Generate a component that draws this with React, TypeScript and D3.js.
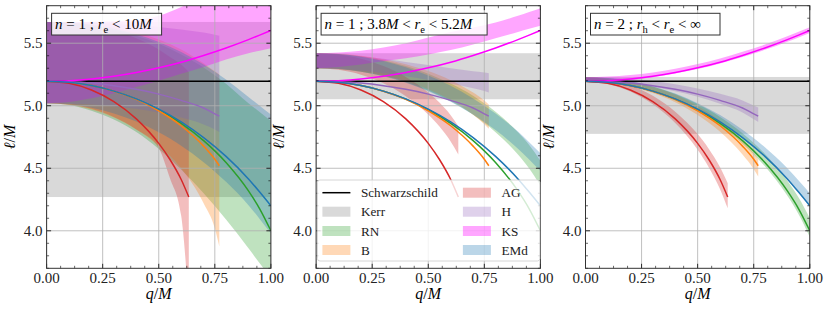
import React from 'react';
import * as d3 from 'd3';

// ---------- data ----------
const Q_FULL = [0, 0.1, 0.2, 0.3, 0.4, 0.5, 0.6, 0.7, 0.8, 0.9, 0.95, 1.0];
const Q_REG = [0, 0.1, 0.2, 0.3, 0.4, 0.5, 0.6, 0.7, 0.75, 0.77];
const Q_AG = [0, 0.1, 0.2, 0.3, 0.4, 0.5, 0.55, 0.6, 0.634];

const SCHW = 5.196;
const KERR_LO = [4.27, 5.052, 4.775];
const KERR_HI = [5.67, 5.42, 5.23];

const RN_LINE = [5.196, 5.187, 5.161, 5.117, 5.053, 4.968, 4.859, 4.721, 4.546, 4.319, 4.176, 4.0];
const EMD_LINE = [5.196, 5.188, 5.161, 5.117, 5.055, 4.973, 4.871, 4.745, 4.595, 4.415, 4.31, 4.2];
const KS_LINE = [5.196, 5.2005, 5.213, 5.235, 5.265, 5.303, 5.348, 5.402, 5.462, 5.529, 5.565, 5.602];
const B_LINE = [5.196, 5.187, 5.161, 5.116, 5.051, 4.96, 4.84, 4.677, 4.572, 4.52];
const H_LINE = [5.196, 5.192, 5.181, 5.16, 5.131, 5.093, 5.043, 4.982, 4.935, 4.917];
const AG_LINE = [5.196, 5.179, 5.126, 5.033, 4.895, 4.699, 4.57, 4.41, 4.27];

// panel 1: n=1, r_e < 10M
const RN_P1_LO = [5.02, 5.005, 4.96, 4.89, 4.79, 4.655, 4.49, 4.3, 4.09, 3.86, 3.74, 3.62];
const RN_P1_HI = [5.67, 5.665, 5.645, 5.612, 5.56, 5.495, 5.41, 5.305, 5.175, 5.02, 4.95, 4.88];
const B_P1_LO = [5.02, 5.008, 4.97, 4.905, 4.81, 4.68, 4.5, 4.22, 4.02, 3.875];
const B_P1_HI = [5.67, 5.665, 5.65, 5.625, 5.585, 5.53, 5.45, 5.34, 5.275, 5.25];
const AG_P1_LO = [5.02, 5.01, 4.975, 4.91, 4.81, 4.66, 4.42, 4.12, 3.4];
const AG_P1_HI = [5.67, 5.66, 5.64, 5.6, 5.54, 5.45, 5.39, 5.33, 5.27];
const H_P1_LO = [5.02, 5.018, 5.01, 4.995, 4.975, 4.945, 4.905, 4.85, 4.81, 4.79];
const H_P1_HI = [5.67, 5.668, 5.664, 5.656, 5.645, 5.63, 5.61, 5.585, 5.567, 5.56];
const KS_P1_LO = [5.02, 5.03, 5.06, 5.1, 5.15, 5.2, 5.255, 5.31, 5.37, 5.42, 5.44, 5.46];
const KS_P1_HI = [5.67, 5.67, 5.672, 5.676, 5.685, 5.72, 5.79, 5.87, 5.95, 6.03, 6.08, 6.13];
const EMD_P1_LO = [5.02, 5.012, 4.984, 4.938, 4.873, 4.787, 4.681, 4.549, 4.392, 4.205, 4.095, 3.98];
const EMD_P1_HI = [5.67, 5.665, 5.648, 5.618, 5.572, 5.51, 5.43, 5.33, 5.21, 5.07, 5.0, 4.93];

// panel 2: n=1, 3.8M < r_e < 5.2M
const RN_P2_LO = [5.3, 5.293, 5.272, 5.238, 5.188, 5.121, 5.035, 4.927, 4.788, 4.61, 4.498, 4.36];
const RN_P2_HI = [5.42, 5.414, 5.395, 5.363, 5.317, 5.256, 5.177, 5.079, 4.951, 4.788, 4.686, 4.56];
const B_P2_LO = [5.3, 5.294, 5.275, 5.243, 5.196, 5.131, 5.045, 4.928, 4.852, 4.815];
const B_P2_HI = [5.42, 5.415, 5.399, 5.371, 5.332, 5.277, 5.204, 5.105, 5.042, 5.01];
const AG_P2_LO = [5.3, 5.287, 5.248, 5.179, 5.076, 4.93, 4.834, 4.714, 4.61];
const AG_P2_HI = [5.42, 5.409, 5.376, 5.317, 5.23, 5.106, 5.025, 4.924, 4.835];
const H_P2_LO = [5.3, 5.295, 5.28, 5.26, 5.235, 5.205, 5.175, 5.14, 5.118, 5.105];
const H_P2_HI = [5.42, 5.41, 5.395, 5.375, 5.35, 5.325, 5.3, 5.275, 5.265, 5.26];
const KS_P2_LO = [5.3, 5.31, 5.33, 5.355, 5.38, 5.41, 5.445, 5.49, 5.54, 5.59, 5.615, 5.64];
const KS_P2_HI = [5.42, 5.425, 5.44, 5.465, 5.5, 5.545, 5.59, 5.625, 5.665, 5.72, 5.75, 5.78];
const EMD_P2_LO = [5.3, 5.293, 5.271, 5.235, 5.184, 5.116, 5.032, 4.929, 4.805, 4.657, 4.571, 4.48];
const EMD_P2_HI = [5.42, 5.414, 5.392, 5.357, 5.307, 5.241, 5.159, 5.058, 4.937, 4.793, 4.708, 4.62];

// panel 3: n=2, r_h < r_e < inf
const RN_P3_LO = [5.19, 5.181, 5.154, 5.108, 5.042, 4.954, 4.841, 4.697, 4.516, 4.281, 4.133, 3.95];
const RN_P3_HI = [5.228, 5.22, 5.195, 5.154, 5.093, 5.013, 4.91, 4.78, 4.615, 4.401, 4.266, 4.1];
const B_P3_LO = [5.19, 5.18, 5.151, 5.101, 5.028, 4.926, 4.792, 4.61, 4.493, 4.435];
const B_P3_HI = [5.228, 5.219, 5.194, 5.15, 5.087, 4.998, 4.882, 4.723, 4.621, 4.57];
const AG_P3_LO = [5.19, 5.172, 5.114, 5.012, 4.862, 4.648, 4.507, 4.333, 4.18];
const AG_P3_HI = [5.228, 5.212, 5.164, 5.079, 4.952, 4.773, 4.655, 4.508, 4.38];
const H_P3_LO = [5.19, 5.185, 5.173, 5.149, 5.115, 5.072, 5.015, 4.945, 4.891, 4.87];
const H_P3_HI = [5.228, 5.225, 5.215, 5.197, 5.171, 5.138, 5.095, 5.042, 5.001, 4.985];
const KS_P3_LO = [5.19, 5.194, 5.207, 5.228, 5.257, 5.293, 5.337, 5.389, 5.447, 5.512, 5.546, 5.582];
const KS_P3_HI = [5.228, 5.233, 5.245, 5.266, 5.296, 5.333, 5.377, 5.431, 5.489, 5.555, 5.591, 5.627];
const EMD_P3_LO = [5.19, 5.182, 5.155, 5.111, 5.049, 4.967, 4.865, 4.739, 4.589, 4.409, 4.304, 4.194];
const EMD_P3_HI = [5.228, 5.221, 5.195, 5.154, 5.097, 5.02, 4.925, 4.808, 4.668, 4.5, 4.403, 4.3];

const X_TICKS = [0, 0.25, 0.5, 0.75, 1.0];
const X_TICK_LABELS = ['0.00', '0.25', '0.50', '0.75', '1.00'];
const Y_TICKS = [4.0, 4.5, 5.0, 5.5];
const Y_TICK_LABELS = ['4.0', '4.5', '5.0', '5.5'];

const MODEL_NAMES = ['RN', 'B', 'AG', 'H', 'KS', 'EMd'];
const MODEL_COLORS = ['#2ca02c', '#ff7f0e', '#d62728', '#9467bd', '#ff00ff', '#1f77b4'];
const MODEL_Q = [Q_FULL, Q_REG, Q_AG, Q_REG, Q_FULL, Q_FULL];
const MODEL_LINES = [RN_LINE, B_LINE, AG_LINE, H_LINE, KS_LINE, EMD_LINE];
const MODEL_BANDS = [
  [[RN_P1_LO, RN_P1_HI], [RN_P2_LO, RN_P2_HI], [RN_P3_LO, RN_P3_HI]],
  [[B_P1_LO, B_P1_HI], [B_P2_LO, B_P2_HI], [B_P3_LO, B_P3_HI]],
  [[AG_P1_LO, AG_P1_HI], [AG_P2_LO, AG_P2_HI], [AG_P3_LO, AG_P3_HI]],
  [[H_P1_LO, H_P1_HI], [H_P2_LO, H_P2_HI], [H_P3_LO, H_P3_HI]],
  [[KS_P1_LO, KS_P1_HI], [KS_P2_LO, KS_P2_HI], [KS_P3_LO, KS_P3_HI]],
  [[EMD_P1_LO, EMD_P1_HI], [EMD_P2_LO, EMD_P2_HI], [EMD_P3_LO, EMD_P3_HI]],
];

// ---------- layout ----------
const W = 829;
const H = 311;
const PANEL_LEFT = [46.6, 316.1, 585.5];
const PW = 224.3;
const PT = 5.7;
const PB = 268.3;
const FONT = '"Liberation Serif", "Times New Roman", serif';

type Seg = { t: string; it?: boolean; sub?: boolean };
const LABELS: Seg[][] = [
  [{ t: 'n', it: true }, { t: ' = 1 ; ' }, { t: 'r', it: true }, { t: 'e', sub: true }, { t: ' < 10' }, { t: 'M', it: true }],
  [{ t: 'n', it: true }, { t: ' = 1 ; 3.8' }, { t: 'M', it: true }, { t: ' < ' }, { t: 'r', it: true }, { t: 'e', sub: true }, { t: ' < 5.2' }, { t: 'M', it: true }],
  [{ t: 'n', it: true }, { t: ' = 2 ; ' }, { t: 'r', it: true }, { t: 'h', sub: true }, { t: ' < ' }, { t: 'r', it: true }, { t: 'e', sub: true }, { t: ' < ∞' }],
];
const LABEL_BOX_W = [110, 166, 129.5];

function MathText({ segs, x, y, size }: { segs: Seg[]; x: number; y: number; size: number }) {
  const out: React.ReactNode[] = [];
  let shifted = false;
  segs.forEach((s, i) => {
    let dy = 0;
    if (s.sub && !shifted) { dy = 3.5; shifted = true; }
    else if (!s.sub && shifted) { dy = -3.5; shifted = false; }
    out.push(
      <tspan key={i} dy={dy || undefined} fontStyle={s.it ? 'italic' : 'normal'} fontSize={s.sub ? size * 0.7 : size}>
        {s.t}
      </tspan>
    );
  });
  return (
    <text x={x} y={y} fontFamily={FONT} fontSize={size} fill="#000" style={{ whiteSpace: 'pre' }}>
      {out}
    </text>
  );
}

function Panel({ idx }: { idx: number }) {
  const left = PANEL_LEFT[idx];
  const x = d3.scaleLinear().domain([0, 1]).range([left, left + PW]);
  const y = d3.scaleLinear().domain([3.7, 5.8]).range([PB, PT]);
  const clipId = `clip${idx}`;

  const area = (q: number[], lo: number[], hi: number[]) =>
    d3.area<number>()
      .x((_, i) => x(q[i]))
      .y0((_, i) => y(lo[i]))
      .y1((_, i) => y(hi[i]))
      .curve(d3.curveMonotoneX)(lo) || '';
  const line = (q: number[], v: number[]) =>
    d3.line<number>()
      .x((_, i) => x(q[i]))
      .y((d) => y(d))
      .curve(d3.curveMonotoneX)(v) || '';

  const xMinor = d3.range(0, 1.0001, 0.0625).filter((v) => Math.abs(v * 4 - Math.round(v * 4)) > 1e-6);
  const yMinor = d3.range(3.7, 5.8001, 0.1).filter((v) => Math.abs(v * 2 - Math.round(v * 2)) > 1e-6);

  const fillOpacity = (name: string) => (name === 'KS' ? 0.35 : 0.3);

  return (
    <g>
      <defs>
        <clipPath id={clipId}>
          <rect x={x(0)} y={PT} width={PW} height={PB - PT} />
        </clipPath>
      </defs>
      <g clipPath={`url(#${clipId})`}>
        <rect x={x(0)} y={y(KERR_HI[idx])} width={PW} height={y(KERR_LO[idx]) - y(KERR_HI[idx])} fill="#808080" fillOpacity={0.3} />
        {MODEL_NAMES.map((name, m) => (
          <path key={name} d={area(MODEL_Q[m], MODEL_BANDS[m][idx][0], MODEL_BANDS[m][idx][1])}
            fill={MODEL_COLORS[m]} fillOpacity={fillOpacity(name)} stroke="none" />
        ))}
        {/* grid */}
        {X_TICKS.map((t) => (
          <line key={'gx' + t} x1={x(t)} x2={x(t)} y1={PT} y2={PB} stroke="#b0b0b0" strokeWidth={0.8} />
        ))}
        {Y_TICKS.map((t) => (
          <line key={'gy' + t} x1={x(0)} x2={x(1)} y1={y(t)} y2={y(t)} stroke="#b0b0b0" strokeWidth={0.8} />
        ))}
        <line x1={x(0)} x2={x(1)} y1={y(SCHW)} y2={y(SCHW)} stroke="#000" strokeWidth={1.5} />
        {MODEL_NAMES.map((name, m) => (
          <path key={'l' + name} d={line(MODEL_Q[m], MODEL_LINES[m])} fill="none" stroke={MODEL_COLORS[m]} strokeWidth={1.5} />
        ))}
      </g>
      {/* ticks */}
      {X_TICKS.map((t) => (
        <g key={'tx' + t}>
          <line x1={x(t)} x2={x(t)} y1={PB} y2={PB - 4.5} stroke="#000" strokeWidth={0.8} />
          <line x1={x(t)} x2={x(t)} y1={PT} y2={PT + 4.5} stroke="#000" strokeWidth={0.8} />
        </g>
      ))}
      {xMinor.map((t) => (
        <g key={'mx' + t}>
          <line x1={x(t)} x2={x(t)} y1={PB} y2={PB - 2.5} stroke="#000" strokeWidth={0.6} />
          <line x1={x(t)} x2={x(t)} y1={PT} y2={PT + 2.5} stroke="#000" strokeWidth={0.6} />
        </g>
      ))}
      {Y_TICKS.map((t) => (
        <g key={'ty' + t}>
          <line x1={x(0)} x2={x(0) + 4.5} y1={y(t)} y2={y(t)} stroke="#000" strokeWidth={0.8} />
          <line x1={x(1)} x2={x(1) - 4.5} y1={y(t)} y2={y(t)} stroke="#000" strokeWidth={0.8} />
        </g>
      ))}
      {yMinor.map((t) => (
        <g key={'my' + t.toFixed(2)}>
          <line x1={x(0)} x2={x(0) + 2.5} y1={y(t)} y2={y(t)} stroke="#000" strokeWidth={0.6} />
          <line x1={x(1)} x2={x(1) - 2.5} y1={y(t)} y2={y(t)} stroke="#000" strokeWidth={0.6} />
        </g>
      ))}
      <rect x={x(0)} y={PT} width={PW} height={PB - PT} fill="none" stroke="#333" strokeWidth={1} />
      {/* tick labels */}
      {X_TICKS.map((t, i) => (
        <text key={'lx' + t} x={x(t)} y={PB + 15} textAnchor="middle" fontFamily={FONT} fontSize={15} fill="#222">
          {X_TICK_LABELS[i]}
        </text>
      ))}
      {Y_TICKS.map((t, i) => (
        <text key={'ly' + t} x={x(0) - 4} y={y(t) + 5} textAnchor="end" fontFamily={FONT} fontSize={15} fill="#222">
          {Y_TICK_LABELS[i]}
        </text>
      ))}
      {/* axis labels */}
      <text x={x(0.5)} y={299} textAnchor="middle" fontFamily={FONT} fontSize={16} fill="#000">
        <tspan fontStyle="italic">q</tspan>
        <tspan>/</tspan>
        <tspan fontStyle="italic">M</tspan>
      </text>
      <text transform={`translate(${left - 32},${(PT + PB) / 2}) rotate(-90)`} textAnchor="middle" fontFamily={FONT} fontSize={16} fill="#000">
        <tspan fontStyle="italic">ℓ</tspan>
        <tspan>/</tspan>
        <tspan fontStyle="italic">M</tspan>
      </text>
      {/* label box */}
      <rect x={left + 5} y={13.3} width={LABEL_BOX_W[idx]} height={21.7} fill="#fff" fillOpacity={0.85} stroke="#333" strokeWidth={1} />
      <MathText segs={LABELS[idx]} x={left + 8.5} y={29} size={15} />
    </g>
  );
}

const LEGEND_ITEMS = [
  { name: 'Schwarzschild', color: '#000', line: true },
  { name: 'Kerr', color: '#808080', op: 0.3 },
  { name: 'RN', color: MODEL_COLORS[0], op: 0.3 },
  { name: 'B', color: MODEL_COLORS[1], op: 0.3 },
  { name: 'AG', color: MODEL_COLORS[2], op: 0.3 },
  { name: 'H', color: MODEL_COLORS[3], op: 0.3 },
  { name: 'KS', color: MODEL_COLORS[4], op: 0.35 },
  { name: 'EMd', color: MODEL_COLORS[5], op: 0.3 },
];

function Legend() {
  const left = PANEL_LEFT[1];
  const bx = left + 1.3;
  const by = 180;
  const colX = [bx + 5, bx + 145.5];
  const rowY = [192.7, 211.7, 231, 250];
  return (
    <g>
      <rect x={bx} y={by} width={222.5} height={81} rx={2.5} fill="#fff" fillOpacity={0.8} stroke="#cccccc" strokeWidth={0.8} />
      {LEGEND_ITEMS.map((it, i) => {
        const c = Math.floor(i / 4);
        const r = i % 4;
        const hx = colX[c];
        const cy = rowY[r];
        return (
          <g key={it.name}>
            {it.line ? (
              <line x1={hx} x2={hx + 28} y1={cy} y2={cy} stroke="#000" strokeWidth={1.5} />
            ) : (
              <rect x={hx} y={cy - 5} width={28} height={10} fill={it.color} fillOpacity={it.op} />
            )}
            <text x={hx + 38.5} y={cy + 4.5} fontFamily={FONT} fontSize={13.2} fill="#222">{it.name}</text>
          </g>
        );
      })}
    </g>
  );
}

export default function App() {
  return (
    <svg width={W} height={H} viewBox={`0 0 ${W} ${H}`} style={{ position: 'absolute', left: 0, top: 0, background: '#fff' }}>
      <rect x={0} y={0} width={W} height={H} fill="#fff" />
      {[0, 1, 2].map((i) => <Panel key={i} idx={i} />)}
      <Legend />
    </svg>
  );
}
